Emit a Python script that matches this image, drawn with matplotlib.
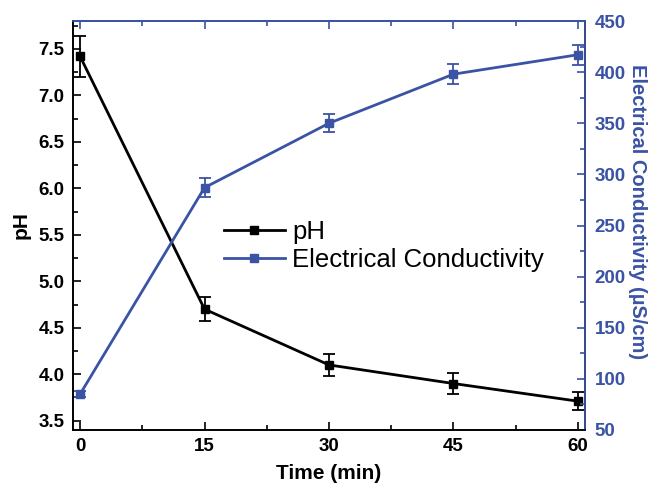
import numpy as np
import matplotlib.pyplot as plt
from matplotlib.ticker import MultipleLocator

plt.rcParams['font.family'] = ['Liberation Sans', 'DejaVu Sans']

# data
time_min = [0, 15, 30, 45, 60]
ph = [7.42, 4.70, 4.10, 3.90, 3.71]
ph_err = [0.22, 0.13, 0.12, 0.11, 0.10]
ec = [85, 287, 350, 398, 417]
ec_err = [3, 9, 9, 10, 10]

blue = '#3A53A4'

fig = plt.figure(figsize=(6.51, 4.91), dpi=100)
ax1 = fig.add_axes([73/651, 61/491, 512/651, 409/491])
ax2 = ax1.twinx()

l1 = ax1.errorbar(time_min, ph, yerr=ph_err, color='black', marker='s', markersize=6,
                  linewidth=2, capsize=4, elinewidth=1.3, capthick=1.3, label='pH', zorder=3)
l2 = ax2.errorbar(time_min, ec, yerr=ec_err, color=blue, marker='s', markersize=6,
                  linewidth=2, capsize=4, elinewidth=1.3, capthick=1.3,
                  label='Electrical Conductivity', zorder=3)

ax1.set_xlim(-0.85, 60.85)
ax1.set_ylim(3.4, 7.8)
ax2.set_ylim(50, 450)

ax1.xaxis.set_major_locator(MultipleLocator(15))
ax1.xaxis.set_minor_locator(MultipleLocator(7.5))
ax1.yaxis.set_major_locator(MultipleLocator(0.5))
ax1.yaxis.set_minor_locator(MultipleLocator(0.25))
ax2.yaxis.set_major_locator(MultipleLocator(50))
ax2.yaxis.set_minor_locator(MultipleLocator(25))

ax1.tick_params(axis='x', which='both', direction='in', top=False, labelsize=13.5, pad=6)
ax1.tick_params(axis='x', which='major', length=6, width=1.2)
ax1.tick_params(axis='x', which='minor', length=3.5, width=1.2)
ax1.tick_params(axis='y', which='major', direction='in', length=6, width=1.2,
                labelsize=13.5, pad=6)
ax1.tick_params(axis='y', which='minor', direction='in', length=3.5, width=1.2)
ax2.tick_params(axis='y', which='major', direction='in', length=6, width=1.2,
                labelsize=13.5, colors=blue, pad=7)
ax2.tick_params(axis='y', which='minor', direction='in', length=3.5, width=1.2, colors=blue)

for lab in ax1.get_xticklabels() + ax1.get_yticklabels() + ax2.get_yticklabels():
    lab.set_fontweight('bold')

# top axis ticks in blue
top = ax1.secondary_xaxis('top')
top.xaxis.set_major_locator(MultipleLocator(15))
top.xaxis.set_minor_locator(MultipleLocator(7.5))
top.tick_params(axis='x', which='major', direction='in', length=6, width=1.2,
                labelsize=0, colors=blue, labeltop=False)
top.tick_params(axis='x', which='minor', direction='in', length=3.5, width=1.2, colors=blue)
top.spines['top'].set_color(blue)
top.spines['top'].set_linewidth(1.2)

for ax in (ax1, ax2):
    for s in ax.spines.values():
        s.set_linewidth(1.2)
ax2.spines['right'].set_color(blue)
ax2.spines['top'].set_color(blue)
ax1.spines['top'].set_color(blue)
ax2.spines['left'].set_color('black')

ax1.set_xlabel('Time (min)', fontsize=15, fontweight='bold', labelpad=6)
ax1.set_ylabel('pH', fontsize=15, fontweight='bold', labelpad=6)
ax2.set_ylabel('Electrical Conductivity (\u00b5S/cm)', fontsize=14.5, fontweight='bold',
               color=blue, rotation=270, va='center')
ax2.yaxis.set_label_coords(1.102, 0.535)

ax1.legend([l1.lines[0], l2.lines[0]], ['pH', 'Electrical Conductivity'],
           loc='center left', bbox_to_anchor=(0.25, 0.45), frameon=False,
           fontsize=18.5, handlelength=2.35, handletextpad=0.3, labelspacing=0.15)

plt.savefig('out.png', dpi=100)
